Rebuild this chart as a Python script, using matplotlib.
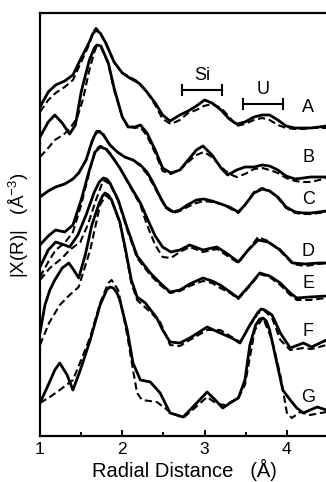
import matplotlib.pyplot as plt

plt.rcParams['font.family'] = ['Liberation Sans', 'DejaVu Sans']
plt.rcParams['mathtext.default'] = 'regular'

# stacked |chi(R)| magnitudes (arb. units, offsets included), data = solid, fit = dashed
r_a = [1.00, 1.10, 1.19, 1.30, 1.40, 1.50, 1.60, 1.64, 1.68, 1.73, 1.80, 1.90, 2.00, 2.09, 2.20, 2.30, 2.40, 2.49, 2.58,
       2.70, 2.80, 2.90, 3.00, 3.09, 3.20, 3.30, 3.39, 3.49, 3.60, 3.70, 3.79, 3.89, 3.99, 4.10, 4.20, 4.29, 4.39, 4.48]
a_data = [329, 344, 351, 355, 361, 378, 394, 402, 406, 403, 393, 374, 363, 358, 353, 344, 333, 321, 315,
          321, 325, 330, 336, 333, 326, 317, 312, 314, 319, 321, 321, 316, 310, 308, 308, 308, 309, 310]
r_a_fit = [1.00, 1.10, 1.19, 1.30, 1.40, 1.50, 1.60, 1.64, 1.68, 1.73, 1.80, 1.90, 2.00, 2.09, 2.20, 2.30, 2.40, 2.49, 2.59,
           2.70, 2.80, 2.90, 2.99, 3.09, 3.20, 3.30, 3.39, 3.49, 3.60, 3.70, 3.79, 3.89, 3.99, 4.10, 4.20, 4.29, 4.39, 4.48]
a_fit = [324, 336, 343, 349, 356, 374, 392, 403, 408, 404, 392, 374, 363, 359, 354, 344, 331, 317, 312,
         316, 323, 326, 330, 332, 328, 319, 310, 312, 316, 318, 316, 311, 308, 307, 307, 308, 308, 308]

r_b = [1.00, 1.10, 1.18, 1.27, 1.36, 1.43, 1.50, 1.60, 1.66, 1.69, 1.74, 1.83, 1.90, 2.00, 2.07, 2.15, 2.22, 2.30, 2.40, 2.49,
       2.59, 2.70, 2.80, 2.90, 2.98, 3.09, 3.20, 3.28, 3.39, 3.49, 3.60, 3.70, 3.79, 3.89, 3.99, 4.10, 4.20, 4.29, 4.39, 4.48]
b_data = [299, 314, 321, 313, 302, 311, 344, 376, 388, 391, 390, 373, 348, 319, 309, 309, 311, 303, 286, 268,
          263, 266, 276, 286, 290, 281, 268, 261, 266, 269, 269, 271, 270, 266, 260, 257, 258, 259, 259, 259]
r_b_fit = [1.00, 1.10, 1.18, 1.28, 1.36, 1.45, 1.52, 1.60, 1.66, 1.69, 1.74, 1.83, 1.90, 2.00, 2.07, 2.15, 2.22, 2.30, 2.40, 2.49,
           2.59, 2.70, 2.80, 2.90, 2.99, 3.09, 3.20, 3.30, 3.39, 3.49, 3.60, 3.70, 3.79, 3.89, 3.99, 4.10, 4.20, 4.29, 4.39, 4.48]
b_fit = [279, 288, 296, 301, 307, 318, 336, 366, 384, 390, 389, 372, 346, 319, 310, 308, 309, 300, 283, 265,
         262, 266, 274, 281, 284, 279, 269, 262, 259, 262, 267, 268, 266, 263, 258, 255, 254, 254, 256, 258]

r_c = [1.00, 1.10, 1.19, 1.30, 1.40, 1.47, 1.56, 1.63, 1.66, 1.69, 1.73, 1.77, 1.85, 1.94, 2.03, 2.13, 2.22, 2.30, 2.37, 2.46,
       2.53, 2.62, 2.70, 2.79, 2.90, 2.99, 3.09, 3.20, 3.30, 3.41, 3.49, 3.60, 3.70, 3.79, 3.89, 3.99, 4.10, 4.20, 4.29, 4.39,
       4.48]
c_data = [239, 245, 249, 252, 257, 263, 276, 294, 300, 304, 304, 301, 291, 284, 279, 276, 271, 264, 254, 239,
          229, 224, 226, 231, 236, 237, 235, 232, 229, 224, 231, 243, 247, 245, 239, 229, 224, 223, 223, 224,
          225]
c_fit = [239, 245, 249, 252, 257, 263, 276, 294, 301, 305, 305, 302, 291, 284, 279, 276, 270, 262, 252, 238,
         228, 223, 225, 229, 233, 235, 234, 232, 228, 223, 231, 244, 248, 245, 238, 228, 223, 222, 222, 223,
         224]

r_d = [1.00, 1.10, 1.19, 1.30, 1.40, 1.50, 1.60, 1.67, 1.73, 1.80, 1.87, 1.97, 2.09, 2.22, 2.30, 2.40,
       2.49, 2.59, 2.70, 2.82, 2.98, 3.15, 3.28, 3.41, 3.53, 3.65, 3.77, 3.92, 4.07, 4.22, 4.39, 4.48]
d_data = [191, 200, 206, 204, 211, 236, 266, 284, 289, 287, 280, 268, 251, 233, 218, 200,
          189, 184, 186, 191, 186, 189, 182, 174, 186, 196, 194, 186, 173, 172, 173, 173]
d_fit = [159, 174, 186, 193, 204, 231, 264, 286, 290, 288, 281, 268, 250, 231, 211, 191,
         179, 178, 184, 189, 184, 187, 180, 173, 186, 199, 195, 185, 172, 170, 172, 173]

r_e = [1.00, 1.10, 1.19, 1.30, 1.36, 1.46, 1.56, 1.66, 1.72, 1.77, 1.81, 1.85, 1.95, 2.06, 2.18, 2.34, 2.46, 2.58,
       2.70, 2.82, 2.98, 3.09, 3.19, 3.31, 3.41, 3.55, 3.67, 3.79, 3.92, 4.04, 4.12, 4.28, 4.48]
e_data = [169, 186, 194, 191, 189, 201, 221, 244, 254, 258, 257, 253, 236, 208, 180, 163, 153, 144,
          146, 152, 158, 155, 151, 144, 138, 151, 163, 160, 153, 143, 138, 139, 140]
r_e_fit = [1.00, 1.12, 1.27, 1.36, 1.49, 1.58, 1.68, 1.77, 1.85, 1.95, 2.06, 2.18, 2.34, 2.46, 2.58,
           2.70, 2.82, 2.98, 3.09, 3.19, 3.31, 3.41, 3.55, 3.67, 3.79, 3.92, 4.04, 4.12, 4.28, 4.48]
e_fit = [156, 168, 178, 186, 194, 211, 236, 256, 252, 235, 206, 178, 161, 151, 143,
         145, 150, 155, 153, 148, 143, 137, 150, 162, 159, 151, 141, 136, 136, 138]

r_f = [1.00, 1.06, 1.12, 1.18, 1.27, 1.35, 1.41, 1.47, 1.55, 1.63, 1.72, 1.76, 1.79, 1.83, 1.87, 1.97, 2.04, 2.11, 2.18,
       2.28, 2.42, 2.49, 2.58, 2.70, 2.82, 3.03, 3.19, 3.33, 3.43, 3.55, 3.65, 3.69, 3.73, 3.82, 3.92, 4.04, 4.20, 4.30,
       4.48]
f_data = [103, 131, 146, 156, 168, 173, 166, 158, 181, 211, 233, 240, 243, 241, 236, 214, 186, 156, 139,
          133, 118, 106, 94, 93, 98, 109, 103, 98, 93, 111, 124, 127, 126, 121, 103, 88, 93, 89,
          96]
r_f_fit = [1.00, 1.11, 1.24, 1.36, 1.47, 1.61, 1.73, 1.80, 1.87, 1.97, 2.04, 2.11, 2.18, 2.34, 2.46, 2.58,
           2.70, 2.82, 3.03, 3.19, 3.33, 3.43, 3.55, 3.65, 3.73, 3.82, 3.92, 4.04, 4.20, 4.30, 4.48]
f_fit = [91, 113, 131, 141, 149, 186, 231, 241, 235, 213, 184, 153, 136, 124, 114, 91,
         90, 96, 106, 106, 99, 94, 110, 123, 125, 118, 96, 86, 88, 87, 91]

r_g = [1.00, 1.10, 1.18, 1.24, 1.33, 1.40, 1.49, 1.61, 1.73, 1.81, 1.85, 1.89, 1.93, 1.97, 2.06, 2.13, 2.22, 2.34, 2.46,
       2.58, 2.74, 2.88, 3.03, 3.13, 3.22, 3.31, 3.41, 3.49, 3.55, 3.62, 3.67, 3.71, 3.75, 3.79, 3.87, 3.95, 4.04, 4.12,
       4.20, 4.28, 4.37, 4.48]
g_data = [33, 51, 66, 73, 61, 46, 66, 96, 131, 146, 149, 148, 144, 136, 106, 73, 56, 54, 43,
          23, 19, 31, 44, 36, 28, 33, 38, 56, 91, 111, 117, 118, 115, 106, 76, 46, 36, 28,
          23, 26, 29, 26]
r_g_fit = [1.00, 1.12, 1.24, 1.40, 1.49, 1.61, 1.73, 1.83, 1.87, 1.95, 2.06, 2.13, 2.18, 2.24, 2.42, 2.58,
           2.74, 2.88, 3.03, 3.15, 3.25, 3.41, 3.49, 3.61, 3.71, 3.82, 3.92, 4.00, 4.06, 4.16, 4.28, 4.48]
g_fit = [33, 39, 46, 56, 74, 99, 133, 153, 156, 146, 101, 66, 43, 36, 34, 24,
         18, 28, 39, 32, 31, 38, 51, 106, 118, 96, 61, 23, 18, 24, 21, 24]

samples = ['A', 'B', 'C', 'D', 'E', 'F', 'G']
label_heights = [329, 278, 236, 184, 153, 104, 38]

shells = ['Si', 'U']
shell_ranges = [(2.725, 3.21), (3.47, 3.95)]
shell_heights = [346, 332]

curves = [
    (r_a, a_data, r_a_fit, a_fit),
    (r_b, b_data, r_b_fit, b_fit),
    (r_c, c_data, r_c, c_fit),
    (r_d, d_data, r_d, d_fit),
    (r_e, e_data, r_e_fit, e_fit),
    (r_f, f_data, r_f_fit, f_fit),
    (r_g, g_data, r_g_fit, g_fit),
]

fig = plt.figure(figsize=(3.26, 4.82), dpi=100)
ax = fig.add_axes([40 / 326, 1 - 436 / 482, 286 / 326, 423 / 482])

for rx, yd, rf, yf in curves:
    ax.plot(rf, yf, color='black', lw=1.5, linestyle=(0, (3.5, 1.8)), solid_joinstyle='round')
    ax.plot(rx, yd, color='black', lw=2.0, solid_joinstyle='round', solid_capstyle='round')

for name, h in zip(samples, label_heights):
    ax.text(4.26, h, name, ha='center', va='center', fontsize=13)

# shell brackets
for name, (lo, hi), h in zip(shells, shell_ranges, shell_heights):
    ax.plot([lo, hi], [h, h], color='black', lw=1.5)
    ax.plot([lo, lo], [h - 5, h + 5], color='black', lw=1.5)
    ax.plot([hi, hi], [h - 5, h + 5], color='black', lw=1.5)
    ax.text((lo + hi) / 2, h + 14, name, ha='center', va='center', fontsize=13)

ax.set_xlim(1, 4.475)
ax.set_ylim(0, 423)
ax.set_xticks([1, 2, 3, 4])
ax.set_xticks([1.5, 2.5, 3.5], minor=True)
ax.set_yticks([])
ax.tick_params(axis='x', which='major', direction='in', length=4, width=1.4, labelsize=12.5, pad=4)
ax.tick_params(axis='x', which='minor', direction='in', length=3, width=1.4)
ax.spines['right'].set_visible(False)
for side in ['left', 'top', 'bottom']:
    ax.spines[side].set_linewidth(1.6)

fig.text(184 / 326, 1 - 470 / 482, 'Radial Distance   (\u00c5)', ha='center', va='center', fontsize=14.5)
fig.text(19 / 326, 1 - 225 / 482, '|X(R)|   (\u00c5$^{-3}$)', rotation=90, ha='center', va='center', fontsize=13.5)

fig.savefig('out.png', dpi=100)
